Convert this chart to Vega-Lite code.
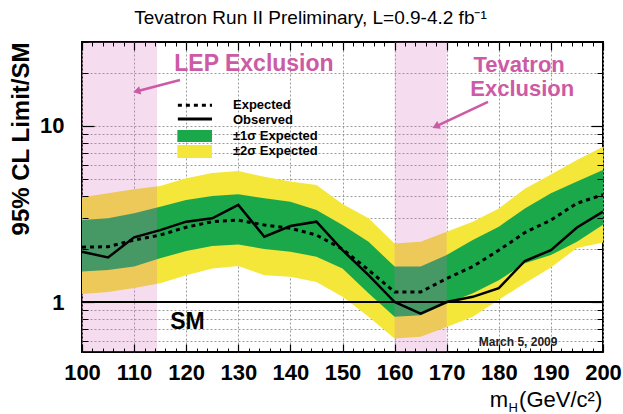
{
  "$schema": "https://vega.github.io/schema/vega-lite/v6.json",
  "width": 521,
  "height": 310,
  "autosize": {"type": "none"},
  "padding": {"left": 82, "top": 42, "right": 20, "bottom": 62},
  "background": "white",
  "data": {"values": [{"note": "annotation"}]},
  "config": {
    "font": "Liberation Sans",
    "view": {"stroke": "black", "strokeWidth": 2},
    "axis": {"labelFont": "Liberation Sans", "titleFont": "Liberation Sans", "labelColor": "black", "titleColor": "black", "tickColor": "black", "domain": false}
  },
  "title": {"text": "Tevatron Run II Preliminary, L=0.9-4.2 fb⁻¹", "anchor": "middle", "dx": -32, "fontSize": 19, "fontWeight": "normal", "font": "Liberation Sans", "color": "black", "offset": 13},
  "datasets": {
    "limits": [
      {"m": 100, "exp": 2.05, "obs": 1.93, "g_lo": 1.49, "g_hi": 2.92, "y_lo": 1.11, "y_hi": 3.94},
      {"m": 105, "exp": 2.06, "obs": 1.79, "g_lo": 1.52, "g_hi": 2.99, "y_lo": 1.14, "y_hi": 4.15},
      {"m": 110, "exp": 2.25, "obs": 2.33, "g_lo": 1.59, "g_hi": 3.19, "y_lo": 1.20, "y_hi": 4.37},
      {"m": 115, "exp": 2.40, "obs": 2.56, "g_lo": 1.77, "g_hi": 3.48, "y_lo": 1.28, "y_hi": 4.56},
      {"m": 120, "exp": 2.66, "obs": 2.86, "g_lo": 1.95, "g_hi": 3.80, "y_lo": 1.42, "y_hi": 5.05},
      {"m": 125, "exp": 2.86, "obs": 2.99, "g_lo": 2.08, "g_hi": 4.00, "y_lo": 1.55, "y_hi": 5.40},
      {"m": 130, "exp": 2.92, "obs": 3.56, "g_lo": 2.12, "g_hi": 4.09, "y_lo": 1.60, "y_hi": 5.55},
      {"m": 135, "exp": 2.74, "obs": 2.35, "g_lo": 2.00, "g_hi": 3.88, "y_lo": 1.42, "y_hi": 5.15},
      {"m": 140, "exp": 2.62, "obs": 2.70, "g_lo": 1.93, "g_hi": 3.71, "y_lo": 1.39, "y_hi": 4.83},
      {"m": 145, "exp": 2.40, "obs": 2.86, "g_lo": 1.81, "g_hi": 3.33, "y_lo": 1.30, "y_hi": 4.62},
      {"m": 150, "exp": 2.00, "obs": 1.97, "g_lo": 1.55, "g_hi": 2.74, "y_lo": 1.07, "y_hi": 3.60},
      {"m": 155, "exp": 1.52, "obs": 1.42, "g_lo": 1.12, "g_hi": 2.20, "y_lo": 0.825, "y_hi": 2.99},
      {"m": 160, "exp": 1.14, "obs": 1.00, "g_lo": 0.825, "g_hi": 1.59, "y_lo": 0.62, "y_hi": 2.15},
      {"m": 165, "exp": 1.14, "obs": 0.86, "g_lo": 0.84, "g_hi": 1.59, "y_lo": 0.635, "y_hi": 2.20},
      {"m": 170, "exp": 1.36, "obs": 1.00, "g_lo": 0.98, "g_hi": 1.85, "y_lo": 0.72, "y_hi": 2.51},
      {"m": 175, "exp": 1.59, "obs": 1.07, "g_lo": 1.12, "g_hi": 2.25, "y_lo": 0.825, "y_hi": 2.86},
      {"m": 180, "exp": 1.97, "obs": 1.20, "g_lo": 1.33, "g_hi": 2.68, "y_lo": 1.03, "y_hi": 3.40},
      {"m": 185, "exp": 2.48, "obs": 1.71, "g_lo": 1.66, "g_hi": 3.40, "y_lo": 1.28, "y_hi": 4.40},
      {"m": 190, "exp": 2.92, "obs": 1.97, "g_lo": 1.85, "g_hi": 4.15, "y_lo": 1.57, "y_hi": 5.30},
      {"m": 195, "exp": 3.64, "obs": 2.65, "g_lo": 2.20, "g_hi": 4.83, "y_lo": 2.03, "y_hi": 6.40},
      {"m": 200, "exp": 4.07, "obs": 3.26, "g_lo": 2.75, "g_hi": 5.62, "y_lo": 2.18, "y_hi": 7.63}
    ],
    "regions": [
      {"name": "LEP", "start": 100, "end": 114.4},
      {"name": "Tevatron", "start": 160, "end": 170}
    ]
  },
  "resolve": {"axis": {"x": "independent", "y": "independent"}},
  "layer": [
    {
      "data": {"name": "limits"},
      "mark": {"type": "area", "color": "#f5e63a", "opacity": 1},
      "encoding": {
        "x": {"field": "m", "type": "quantitative", "scale": {"domain": [100, 200], "nice": false, "zero": false},
              "axis": {"orient": "bottom", "values": [100,110,120,130,140,150,160,170,180,190,200], "ticks": false, "labelFontSize": 22, "labelFontWeight": "bold", "labelPadding": 10, "labelFlush": false, "labelOverlap": false, "grid": true, "gridColor": "#9a9a9a", "gridDash": [2, 2], "gridWidth": 1, "title": null, "zindex": 0}},
        "y": {"field": "y_lo", "type": "quantitative", "scale": {"type": "log", "domain": [0.52, 30], "nice": false},
              "axis": {"orient": "left", "values": [0.6,0.7,0.8,0.9,1,2,3,4,5,6,7,8,9,10,20], "ticks": false, "labelExpr": "datum.value == 1 ? '1' : datum.value == 10 ? '10' : ''", "labelFontSize": 22, "labelFontWeight": "bold", "labelPadding": 18, "labelOverlap": false, "grid": true, "gridColor": "#9a9a9a", "gridDash": [2, 2], "gridWidth": 1, "title": "95% CL Limit/SM", "titleFontSize": 24, "titleFontWeight": "bold", "titleAnchor": "end", "titlePadding": 6, "zindex": 0}},
        "y2": {"field": "y_hi"}
      }
    },
    {
      "data": {"name": "limits"},
      "mark": {"type": "area", "color": "#1aa84a", "opacity": 1},
      "encoding": {
        "x": {"field": "m", "type": "quantitative",
              "axis": {"orient": "bottom", "values": [100,110,120,130,140,150,160,170,180,190,200], "labels": false, "grid": false, "ticks": true, "tickSize": -8, "tickWidth": 1.2, "title": null, "zindex": 1}},
        "y": {"field": "g_lo", "type": "quantitative",
              "axis": {"orient": "left", "values": [1, 10], "labels": false, "grid": false, "ticks": true, "tickSize": -12, "tickWidth": 1.2, "title": null, "zindex": 1}},
        "y2": {"field": "g_hi"}
      }
    },
    {
      "data": {"name": "regions"},
      "mark": {"type": "rect", "color": "#d46cbc", "opacity": 0.24},
      "encoding": {
        "x": {"field": "start", "type": "quantitative",
              "axis": {"orient": "bottom", "values": [102,104,106,108,112,114,116,118,122,124,126,128,132,134,136,138,142,144,146,148,152,154,156,158,162,164,166,168,172,174,176,178,182,184,186,188,192,194,196,198], "labels": false, "grid": false, "ticks": true, "tickSize": -4, "tickWidth": 1, "title": null, "zindex": 1}},
        "x2": {"field": "end"},
        "y": {"datum": 0.52, "axis": null},
        "y2": {"datum": 30}
      }
    },
    {
      "mark": {"type": "rule", "color": "black", "strokeWidth": 2},
      "encoding": {"y": {"datum": 1, "axis": null}}
    },
    {
      "data": {"name": "limits"},
      "mark": {"type": "line", "color": "black", "strokeWidth": 3, "strokeDash": [4, 4]},
      "encoding": {
        "x": {"field": "m", "type": "quantitative",
              "axis": {"orient": "top", "values": [100,110,120,130,140,150,160,170,180,190,200], "labels": false, "grid": false, "ticks": true, "tickSize": -8, "tickWidth": 1.2, "title": null, "zindex": 1}},
        "y": {"field": "exp", "type": "quantitative",
              "axis": {"orient": "left", "values": [0.6,0.7,0.8,0.9,2,3,4,5,6,7,8,9,20,30], "labels": false, "grid": false, "ticks": true, "tickSize": -6, "tickWidth": 1, "title": null, "zindex": 1}}
      }
    },
    {
      "data": {"name": "limits"},
      "mark": {"type": "line", "color": "black", "strokeWidth": 2.5},
      "encoding": {
        "x": {"field": "m", "type": "quantitative",
              "axis": {"orient": "top", "values": [102,104,106,108,112,114,116,118,122,124,126,128,132,134,136,138,142,144,146,148,152,154,156,158,162,164,166,168,172,174,176,178,182,184,186,188,192,194,196,198], "labels": false, "grid": false, "ticks": true, "tickSize": -4, "tickWidth": 1, "title": null, "zindex": 1}},
        "y": {"field": "obs", "type": "quantitative",
              "axis": {"orient": "right", "values": [1, 10], "labels": false, "grid": false, "ticks": true, "tickSize": -12, "tickWidth": 1.2, "title": null, "zindex": 1}}
      }
    },
    {
      "data": {"name": "limits"},
      "mark": {"type": "point", "opacity": 0},
      "encoding": {
        "x": {"field": "m", "type": "quantitative", "axis": null},
        "y": {"field": "exp", "type": "quantitative",
              "axis": {"orient": "right", "values": [0.6,0.7,0.8,0.9,2,3,4,5,6,7,8,9,20,30], "labels": false, "grid": false, "ticks": true, "tickSize": -6, "tickWidth": 1, "title": null, "zindex": 1}}
      }
    },
    {
      "mark": {"type": "rule", "color": "black", "strokeWidth": 3, "strokeDash": [4, 4]},
      "encoding": {"x": {"datum": 118.4, "type": "quantitative", "axis": null}, "x2": {"datum": 124.95}, "y": {"datum": 13.1, "type": "quantitative", "axis": null}}
    },
    {
      "mark": {"type": "rule", "color": "black", "strokeWidth": 3},
      "encoding": {"x": {"datum": 118.4, "type": "quantitative", "axis": null}, "x2": {"datum": 124.95}, "y": {"datum": 10.96, "type": "quantitative", "axis": null}}
    },
    {
      "mark": {"type": "rect", "color": "#1aa84a"},
      "encoding": {"x": {"datum": 118.3, "type": "quantitative", "axis": null}, "x2": {"datum": 124.95}, "y": {"datum": 9.49, "type": "quantitative", "axis": null}, "y2": {"datum": 8.11}}
    },
    {
      "mark": {"type": "rect", "color": "#f5e63a"},
      "encoding": {"x": {"datum": 118.3, "type": "quantitative", "axis": null}, "x2": {"datum": 124.95}, "y": {"datum": 7.8, "type": "quantitative", "axis": null}, "y2": {"datum": 6.58}}
    },
    {
      "mark": {"type": "text", "align": "left", "baseline": "middle", "fontSize": 13, "fontWeight": "bold", "color": "black", "text": "Expected"},
      "encoding": {"x": {"datum": 128.98, "type": "quantitative", "axis": null}, "y": {"datum": 13.1, "type": "quantitative", "axis": null}}
    },
    {
      "mark": {"type": "text", "align": "left", "baseline": "middle", "fontSize": 13, "fontWeight": "bold", "color": "black", "text": "Observed"},
      "encoding": {"x": {"datum": 128.98, "type": "quantitative", "axis": null}, "y": {"datum": 10.82, "type": "quantitative", "axis": null}}
    },
    {
      "mark": {"type": "text", "align": "left", "baseline": "middle", "fontSize": 13, "fontWeight": "bold", "color": "black", "text": "±1σ Expected"},
      "encoding": {"x": {"datum": 128.98, "type": "quantitative", "axis": null}, "y": {"datum": 8.77, "type": "quantitative", "axis": null}}
    },
    {
      "mark": {"type": "text", "align": "left", "baseline": "middle", "fontSize": 13, "fontWeight": "bold", "color": "black", "text": "±2σ Expected"},
      "encoding": {"x": {"datum": 128.98, "type": "quantitative", "axis": null}, "y": {"datum": 7.21, "type": "quantitative", "axis": null}}
    },
    {
      "mark": {"type": "text", "align": "center", "baseline": "middle", "fontSize": 23, "fontWeight": "bold", "color": "#cc5aa5", "text": "LEP Exclusion"},
      "encoding": {"x": {"datum": 133.0, "type": "quantitative", "axis": null}, "y": {"datum": 22.5, "type": "quantitative", "axis": null}}
    },
    {
      "mark": {"type": "text", "align": "center", "baseline": "middle", "fontSize": 22, "fontWeight": "bold", "color": "#cc5aa5", "text": "Tevatron"},
      "encoding": {"x": {"datum": 183.9, "type": "quantitative", "axis": null}, "y": {"datum": 22.3, "type": "quantitative", "axis": null}}
    },
    {
      "mark": {"type": "text", "align": "center", "baseline": "middle", "fontSize": 22, "fontWeight": "bold", "color": "#cc5aa5", "text": "Exclusion"},
      "encoding": {"x": {"datum": 184.5, "type": "quantitative", "axis": null}, "y": {"datum": 16.2, "type": "quantitative", "axis": null}}
    },
    {
      "mark": {"type": "rule", "color": "#cc5aa5", "strokeWidth": 2.5},
      "encoding": {"x": {"datum": 118.81, "type": "quantitative", "axis": null}, "x2": {"datum": 110.75}, "y": {"datum": 18.25, "type": "quantitative", "axis": null}, "y2": {"datum": 15.8}}
    },
    {
      "mark": {"type": "point", "shape": "triangle-left", "filled": true, "color": "#cc5aa5", "size": 70, "angle": 346, "opacity": 1},
      "encoding": {"x": {"datum": 110.5, "type": "quantitative", "axis": null}, "y": {"datum": 15.75, "type": "quantitative", "axis": null}}
    },
    {
      "mark": {"type": "rule", "color": "#cc5aa5", "strokeWidth": 2.5},
      "encoding": {"x": {"datum": 177.93, "type": "quantitative", "axis": null}, "x2": {"datum": 168.14}, "y": {"datum": 13.7, "type": "quantitative", "axis": null}, "y2": {"datum": 10.0}}
    },
    {
      "mark": {"type": "point", "shape": "triangle-left", "filled": true, "color": "#cc5aa5", "size": 70, "angle": 335, "opacity": 1},
      "encoding": {"x": {"datum": 167.9, "type": "quantitative", "axis": null}, "y": {"datum": 9.95, "type": "quantitative", "axis": null}}
    },
    {
      "mark": {"type": "text", "align": "center", "baseline": "middle", "fontSize": 23, "fontWeight": "bold", "color": "black", "text": "SM"},
      "encoding": {"x": {"datum": 120.25, "type": "quantitative", "axis": null}, "y": {"datum": 0.77, "type": "quantitative", "axis": null}}
    },
    {
      "mark": {"type": "text", "align": "center", "baseline": "middle", "fontSize": 12, "fontWeight": "bold", "color": "#222222", "text": "March 5, 2009"},
      "encoding": {"x": {"datum": 183.7, "type": "quantitative", "axis": null}, "y": {"datum": 0.592, "type": "quantitative", "axis": null}}
    },
    {
      "mark": {"type": "text", "align": "right", "baseline": "alphabetic", "fontSize": 22, "color": "black", "text": "(GeV/c²)"},
      "encoding": {"x": {"datum": 199.85, "type": "quantitative", "axis": null}, "y": {"datum": 0.253, "type": "quantitative", "axis": null}}
    },
    {
      "mark": {"type": "text", "align": "right", "baseline": "alphabetic", "fontSize": 22, "color": "black", "text": "m"},
      "encoding": {"x": {"datum": 181.77, "type": "quantitative", "axis": null}, "y": {"datum": 0.253, "type": "quantitative", "axis": null}}
    },
    {
      "mark": {"type": "text", "align": "left", "baseline": "alphabetic", "fontSize": 13, "color": "black", "text": "H"},
      "encoding": {"x": {"datum": 181.86, "type": "quantitative", "axis": null}, "y": {"datum": 0.237, "type": "quantitative", "axis": null}}
    }
  ]
}
